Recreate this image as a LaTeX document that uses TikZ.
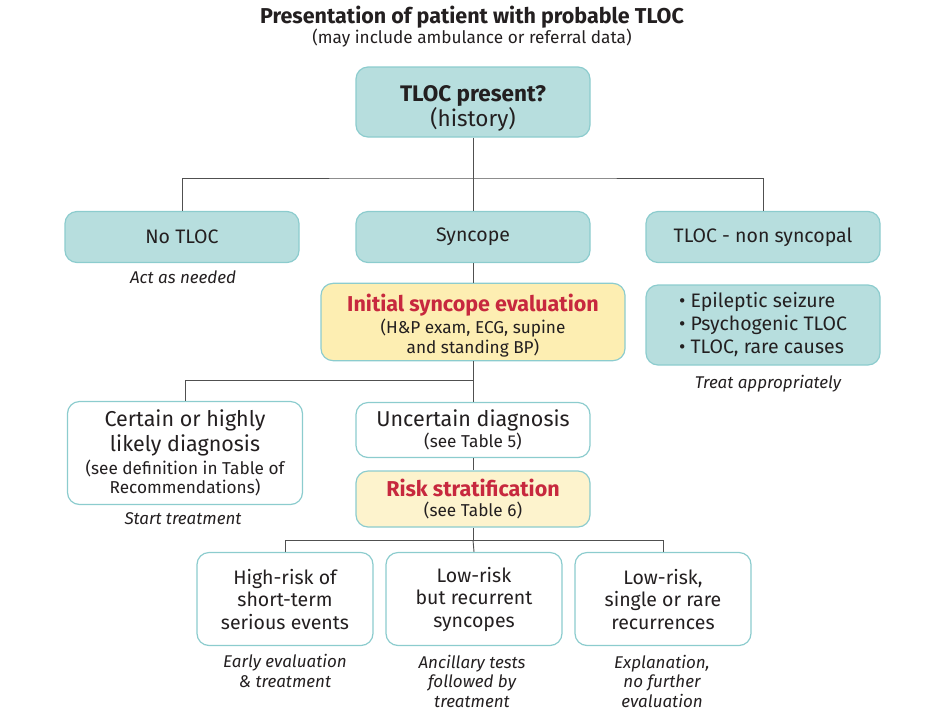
\documentclass[tikz,border=0pt]{standalone}
\usepackage{fontspec}
\setmainfont{Fira Sans}
\definecolor{tealfill}{RGB}{183,222,222}
\definecolor{tealline}{RGB}{140,204,206}
\definecolor{evalfill}{RGB}{253,238,178}
\definecolor{riskfill}{RGB}{253,243,205}
\definecolor{alertred}{RGB}{199,40,62}
\definecolor{inkgray}{RGB}{35,31,32}
\definecolor{wiregray}{RGB}{80,80,80}
\newcommand{\boxfont}{\fontsize{19.5}{22.5}\selectfont}
\newcommand{\bigfont}{\fontsize{21.5}{25}\selectfont}
\newcommand{\subfont}{\fontsize{17.2}{20}\selectfont}
\newcommand{\headfont}{\fontsize{21.5}{25}\selectfont\bfseries\color{alertred}}

\begin{document}
\begin{tikzpicture}[x=1pt, y=-1pt,
  box/.style={rectangle, rounded corners=12pt, draw=tealline, line width=1.2pt, fill=tealfill,
              minimum width=234pt, minimum height=51pt, align=center, text=inkgray,
              font=\boxfont},
  evalbox/.style={box, fill=evalfill},
  openbox/.style={box, fill=white},
  note/.style={align=center, text=inkgray, font=\fontsize{17}{19.5}\selectfont\itshape},
  wire/.style={draw=wiregray, line width=0.9pt}
]
  \useasboundingbox (0,0) rectangle (942,716);
  % heading
  \node[text=inkgray, font=\fontsize{21.5}{24}\selectfont\bfseries] (title) at (472,17)
       {Presentation of patient with probable TLOC};
  \node[text=inkgray, font=\subfont] (subtitle) at (472,38)
       {(may include ambulance or referral data)};
  % first level
  \node[box, minimum height=70pt, font=\fontsize{22.5}{25}\selectfont] (tloc) at (473,102)
       {\mbox{}\\[4pt]\bfseries TLOC present?\\(history)};
  \node[box] (notloc)  at (182,237) {No TLOC};
  \node[box] (syncope) at (473,237) {Syncope};
  \node[box] (nonsync) at (763,237) {TLOC - non syncopal};
  \node[note] (act) at (183,277) {Act as needed};
  % evaluation
  \node[evalbox, minimum width=304pt, minimum height=74pt, font=\subfont] (initial) at (473,322)
       {\mbox{}\\[5pt]\headfont Initial syncope evaluation\\[2pt]
        (H\&P exam, ECG, supine\\and standing BP)};
  \node[box, minimum height=80pt, align=left, font=\fontsize{19.5}{23}\selectfont] (causes) at (763,325)
       {\textbullet{} Epileptic seizure\\\textbullet{} Psychogenic TLOC\\\textbullet{} TLOC, rare causes};
  \node[note] (treat) at (768,384) {Treat appropriately};
  % diagnosis
  \node[openbox, minimum width=235pt, minimum height=103pt, font=\bigfont] (certain) at (185,453)
       {Certain or highly\\likely diagnosis\\[-2pt]
        \subfont (see definition in Table of\\[-6pt]\subfont Recommendations)};
  \node[note] (start) at (183,519) {Start treatment};
  \node[openbox, minimum height=55pt, font=\bigfont] (uncertain) at (473,430)
       {Uncertain diagnosis\\[-4pt]\subfont (see Table 5)};
  \node[box, fill=riskfill, minimum height=56pt, font=\subfont] (risk) at (473,499)
       {\headfont Risk stratification\\[0pt](see Table 6)};
  % risk groups
  \node[openbox, minimum width=176pt, minimum height=93pt] (high)    at (285,599)
       {High-risk of\\short-term\\serious events};
  \node[openbox, minimum width=176pt, minimum height=93pt] (lowrec)  at (474,599)
       {Low-risk\\but recurrent\\syncopes};
  \node[openbox, minimum width=176pt, minimum height=93pt] (lowrare) at (663,599)
       {Low-risk,\\single or rare\\recurrences};
  \node[note] (early)   at (285,671) {Early evaluation\\\& treatment};
  \node[note] (ancil)   at (472,681) {Ancillary tests\\followed by\\treatment};
  \node[note] (explain) at (662,681) {Explanation,\\no further\\evaluation};
  % connectors
  \coordinate (split1) at (473,178);
  \coordinate (split2) at (473,380);
  \coordinate (split3) at (473,540);
  \draw[wire] (tloc.south) -- (split1);
  \draw[wire] (notloc.north) |- (split1) -| (nonsync.north);
  \draw[wire] (split1) -- (syncope.north);
  \draw[wire] (syncope.south) -- (initial.north);
  \draw[wire] (initial.south) -- (split2);
  \draw[wire] (certain.north) |- (split2) -- (uncertain.north);
  \draw[wire] (uncertain.south) -- (risk.north);
  \draw[wire] (risk.south) -- (split3);
  \draw[wire] (high.north) |- (split3) -| (lowrare.north);
  \draw[wire] (split3) -- (lowrec.north);
\end{tikzpicture}
\end{document}
